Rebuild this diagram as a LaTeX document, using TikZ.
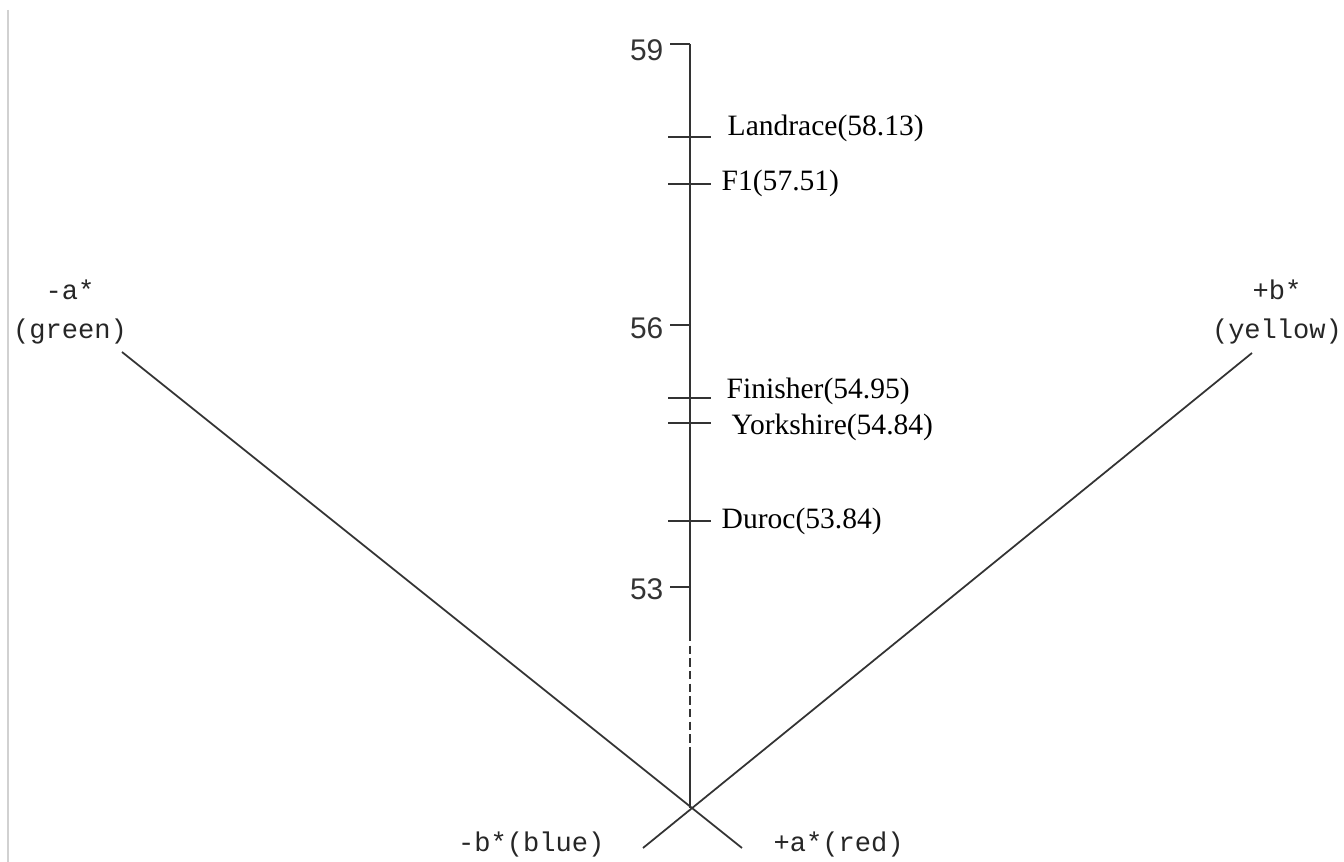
\documentclass[tikz,border=0pt]{standalone}
\usepackage{fontspec}
\setmainfont{Liberation Serif}
\newfontfamily\numfont{Liberation Sans}
\newfontfamily\monofont{Liberation Mono}
\begin{document}
\begin{tikzpicture}[
        x=0.01cm, y=-0.01cm,
        axis_line/.style={line width=0.75pt, draw=black!80},
        cross_line/.style={line width=0.5pt, draw=black!80},
        tick_mark/.style={line width=0.5pt, draw=black!80},
        breed_label/.style={font=\fontsize{8.4}{9}\selectfont, inner sep=0pt, anchor=west},
        scale_num/.style={font=\numfont\fontsize{8.5}{9}\selectfont, inner sep=0pt, anchor=east, text=black!80},
        end_label/.style={font=\monofont\fontsize{7.7}{9}\selectfont, inner sep=0pt, text=black!85}
    ]
    \useasboundingbox (0,0) rectangle (1344,862);
    \draw[black!18, line width=0.6pt] (8,10) -- (8,862);

    % --- Axis points ---
    \coordinate (top) at (690,44);
    \coordinate (dash_start) at (690,633);
    \coordinate (dash_end) at (690,747);
    \coordinate (cross) at (690,808);

    % --- Vertical scale ---
    \draw[axis_line] (top) -- (dash_start);
    \draw[axis_line, dash pattern=on 2.4pt off 1.2pt] (dash_start) -- (dash_end);
    \draw[axis_line] (dash_end) -- (cross);

    \node[scale_num] (n59) at (664,50) {59};
    \node[scale_num] (n56) at (664,328) {56};
    \node[scale_num] (n53) at (664,589) {53};
    \draw[tick_mark] (670,44) -- (top);
    \draw[tick_mark] (670,325) -- (690,325);
    \draw[tick_mark] (670,587) -- (690,587);

    % --- Breeds ---
    \draw[tick_mark] (668,137) -- (711,137);
    \node[breed_label] (landrace) at (727,128) {Landrace(58.13)};
    \draw[tick_mark] (668,184) -- (711,184);
    \node[breed_label] (f1) at (721,183) {F1(57.51)};
    \draw[tick_mark] (668,398) -- (711,398);
    \node[breed_label] (finisher) at (726,391) {Finisher(54.95)};
    \draw[tick_mark] (668,423) -- (711,423);
    \node[breed_label] (yorkshire) at (731,427) {Yorkshire(54.84)};
    \draw[tick_mark] (668,521) -- (711,521);
    \node[breed_label] (duroc) at (721,521) {Duroc(53.84)};

    % --- Colour axes ---
    \coordinate (green_end) at (122,352);
    \coordinate (red_end) at (742,848);
    \coordinate (yellow_end) at (1252,353);
    \coordinate (blue_end) at (643,848);
    \draw[cross_line] (green_end) -- (red_end);
    \draw[cross_line] (yellow_end) -- (blue_end);

    \node[end_label] (neg_a) at (70,290) {-a*};
    \node[end_label] (green) at (70,332) {(green)};
    \node[end_label] (pos_b) at (1277,290) {+b*};
    \node[end_label] (yellow) at (1277,332) {(yellow)};
    \node[end_label, anchor=east] (blue) at (605,845) {-b*(blue)};
    \node[end_label, anchor=west] (red) at (773,845) {+a*(red)};

\end{tikzpicture}
\end{document}
